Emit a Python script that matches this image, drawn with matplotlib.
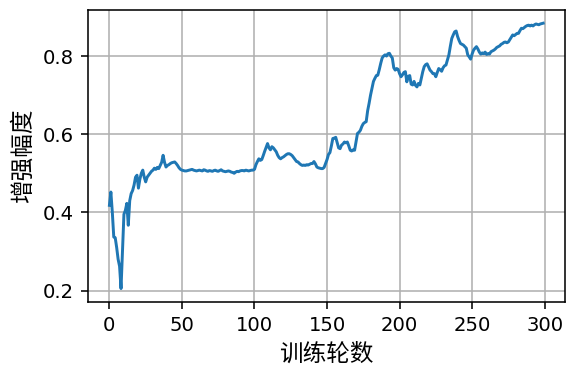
import matplotlib
matplotlib.use("Agg")
import matplotlib.pyplot as plt
import numpy as np

# digits in DejaVu, Chinese glyphs fall through to Noto CJK
plt.rcParams['font.family'] = ['DejaVu Sans', 'Noto Sans CJK SC']
plt.rcParams['axes.unicode_minus'] = False

# enhancement magnitude recorded at every training epoch (0..299)
magnitude = [
    0.418, 0.452, 0.400, 0.337, 0.335, 0.310, 0.280, 0.262, 0.205, 0.300,
    0.395, 0.405, 0.423, 0.367, 0.430, 0.448, 0.456, 0.470, 0.490, 0.495,
    0.462, 0.485, 0.500, 0.508, 0.490, 0.478, 0.490, 0.495, 0.500, 0.505,
    0.508, 0.513, 0.510, 0.515, 0.512, 0.520, 0.528, 0.546, 0.528, 0.516,
    0.520, 0.522, 0.525, 0.527, 0.528, 0.529, 0.525, 0.520, 0.514, 0.510,
    0.508, 0.507, 0.506, 0.506, 0.507, 0.508, 0.509, 0.510, 0.508, 0.507,
    0.506, 0.507, 0.508, 0.507, 0.506, 0.509, 0.508, 0.506, 0.505, 0.507,
    0.506, 0.505, 0.507, 0.508, 0.506, 0.505, 0.507, 0.509, 0.506, 0.505,
    0.504, 0.505, 0.506, 0.505, 0.503, 0.502, 0.500, 0.503, 0.505, 0.504,
    0.506, 0.507, 0.507, 0.506, 0.508, 0.507, 0.506, 0.507, 0.508, 0.508,
    0.510, 0.522, 0.530, 0.537, 0.533, 0.535, 0.545, 0.556, 0.566, 0.576,
    0.565, 0.560, 0.568, 0.565, 0.560, 0.555, 0.546, 0.540, 0.537, 0.540,
    0.542, 0.545, 0.548, 0.550, 0.550, 0.548, 0.545, 0.540, 0.535, 0.530,
    0.529, 0.525, 0.522, 0.520, 0.521, 0.520, 0.522, 0.521, 0.523, 0.525,
    0.525, 0.530, 0.524, 0.516, 0.514, 0.513, 0.512, 0.512, 0.515, 0.525,
    0.535, 0.548, 0.553, 0.570, 0.589, 0.590, 0.592, 0.578, 0.565, 0.563,
    0.572, 0.575, 0.580, 0.578, 0.580, 0.570, 0.559, 0.557, 0.560, 0.559,
    0.580, 0.602, 0.605, 0.610, 0.620, 0.627, 0.630, 0.632, 0.660, 0.679,
    0.700, 0.717, 0.735, 0.743, 0.750, 0.751, 0.765, 0.781, 0.795, 0.800,
    0.803, 0.800, 0.806, 0.807, 0.800, 0.795, 0.770, 0.764, 0.768, 0.766,
    0.755, 0.747, 0.752, 0.758, 0.760, 0.734, 0.748, 0.750, 0.728, 0.726,
    0.735, 0.725, 0.721, 0.730, 0.726, 0.743, 0.760, 0.773, 0.778, 0.780,
    0.772, 0.764, 0.760, 0.755, 0.755, 0.747, 0.758, 0.768, 0.765, 0.761,
    0.770, 0.775, 0.777, 0.790, 0.803, 0.825, 0.845, 0.854, 0.862, 0.864,
    0.850, 0.840, 0.832, 0.830, 0.828, 0.824, 0.820, 0.803, 0.798, 0.792,
    0.805, 0.815, 0.820, 0.824, 0.818, 0.810, 0.805, 0.808, 0.806, 0.810,
    0.804, 0.806, 0.805, 0.811, 0.813, 0.815, 0.818, 0.822, 0.824, 0.826,
    0.830, 0.832, 0.835, 0.836, 0.834, 0.836, 0.842, 0.848, 0.854, 0.852,
    0.855, 0.858, 0.858, 0.865, 0.871, 0.870, 0.873, 0.876, 0.878, 0.879,
    0.877, 0.879, 0.877, 0.880, 0.882, 0.881, 0.880, 0.882, 0.883, 0.884,
]
epochs = np.arange(len(magnitude))

fig, ax = plt.subplots(figsize=(4.0, 2.608), dpi=141.5)
ax.plot(epochs, magnitude, color='tab:blue', linewidth=1.5)
ax.set_xlabel('训练轮数', fontsize=12, family=['Noto Sans CJK SC'])
ax.set_ylabel('增强幅度', fontsize=12, family=['Noto Sans CJK SC'])
ax.set_xticks([0, 50, 100, 150, 200, 250, 300])
ax.set_yticks([0.2, 0.4, 0.6, 0.8])
ax.grid(True)

fig.subplots_adjust(left=0.155, right=0.998, top=0.973, bottom=0.182)
fig.savefig('out.png', dpi=141.5)
